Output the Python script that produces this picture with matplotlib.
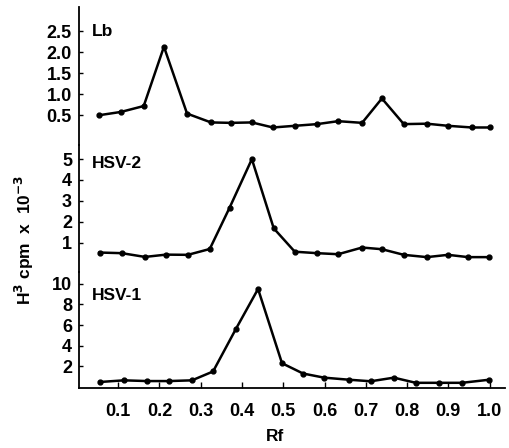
import matplotlib
matplotlib.use("Agg")
import matplotlib.pyplot as plt

plt.rcParams['font.family'] = ['Liberation Sans', 'DejaVu Sans']
plt.rcParams['font.weight'] = 'bold'
plt.rcParams['mathtext.default'] = 'bf'

# data ---------------------------------------------------------------- #
rf_19 = [0.053, 0.107, 0.162, 0.211, 0.267, 0.325, 0.373, 0.424, 0.475, 0.528,
         0.582, 0.633, 0.691, 0.739, 0.792, 0.848, 0.899, 0.957, 1.0]
lb_cpm = [0.50, 0.58, 0.72, 2.13, 0.54, 0.33, 0.32, 0.33, 0.21, 0.25,
          0.29, 0.36, 0.32, 0.90, 0.29, 0.30, 0.25, 0.21, 0.21]

rf_hsv2 = [0.055, 0.109, 0.165, 0.216, 0.269, 0.322, 0.370, 0.424, 0.477, 0.528,
           0.582, 0.633, 0.691, 0.739, 0.792, 0.848, 0.899, 0.948, 0.999]
hsv2_cpm = [0.52, 0.49, 0.31, 0.42, 0.41, 0.69, 2.67, 5.0, 1.68, 0.56,
            0.49, 0.44, 0.76, 0.68, 0.41, 0.30, 0.41, 0.30, 0.30]

rf_hsv1 = [0.056, 0.114, 0.170, 0.223, 0.279, 0.330, 0.385, 0.439, 0.497, 0.548,
           0.599, 0.659, 0.712, 0.768, 0.821, 0.877, 0.933, 0.999]
hsv1_cpm = [0.48, 0.64, 0.57, 0.57, 0.64, 1.5, 5.6, 9.5, 2.3, 1.3,
            0.9, 0.7, 0.55, 0.9, 0.4, 0.4, 0.4, 0.7]

x_ticks = [0.1, 0.2, 0.3, 0.4, 0.5, 0.6, 0.7, 0.8, 0.9, 1.0]
lb_ticks = [0.5, 1.0, 1.5, 2.0, 2.5]
hsv2_ticks = [1, 2, 3, 4, 5]
hsv1_ticks = [2, 4, 6, 8, 10]
# --------------------------------------------------------------------- #

fig = plt.figure(figsize=(5.09, 4.48), dpi=100)
left, width = 0.155, 0.837
ax_lb = fig.add_axes([left, 0.676, width, 0.308])
ax_h2 = fig.add_axes([left, 0.393, width, 0.283])
ax_h1 = fig.add_axes([left, 0.134, width, 0.259])

panels = [
    (ax_lb, rf_19, lb_cpm, lb_ticks, ["0.5", "1.0", "1.5", "2.0", "2.5"], (-0.21, 3.07), "Lb", 2.48),
    (ax_h2, rf_hsv2, hsv2_cpm, hsv2_ticks, ["1", "2", "3", "4", "5"], (-0.41, 5.67), "HSV-2", 4.8),
    (ax_h1, rf_hsv1, hsv1_cpm, hsv1_ticks, ["2", "4", "6", "8", "10"], (-0.1, 11.15), "HSV-1", 8.9),
]

for ax, xs, ys, yt, ytl, ylim, name, label_y in panels :
    ax.plot(xs, ys, color='black', lw=1.8, marker='o', ms=3.5)
    ax.set_xlim(0.005, 1.037)
    ax.set_ylim(*ylim)
    ax.set_yticks(yt)
    ax.set_yticklabels(ytl, fontsize=13, fontweight='bold')
    ax.tick_params(axis='y', direction='in', length=3, width=1, pad=5)
    for s in ['top', 'right'] :
        ax.spines[s].set_visible(False)
    ax.spines['left'].set_linewidth(1.3)
    ax.text(0.037, label_y, name, fontsize=12.5, fontweight='bold', va='center', ha='left')
    ax.patch.set_alpha(0)
    if ax is not ax_h1 :
        ax.spines['bottom'].set_visible(False)
        ax.set_xticks([])

ax_h1.set_xticks(x_ticks)
ax_h1.set_xticklabels(["%.1f" % v for v in x_ticks], fontsize=13, fontweight='bold')
ax_h1.tick_params(axis='x', direction='in', length=4, width=1, pad=11)
ax_h1.spines['bottom'].set_linewidth(1.3)

fig.text(0.54, 0.025, "Rf", fontsize=12.5, fontweight='bold', ha='center', va='center')
fig.text(0.048, 0.465, r"H$^{3}$ cpm  x  10$^{-3}$", rotation=90, fontsize=12.5,
         fontweight='bold', ha='center', va='center')

fig.savefig("out.png", dpi=100)
